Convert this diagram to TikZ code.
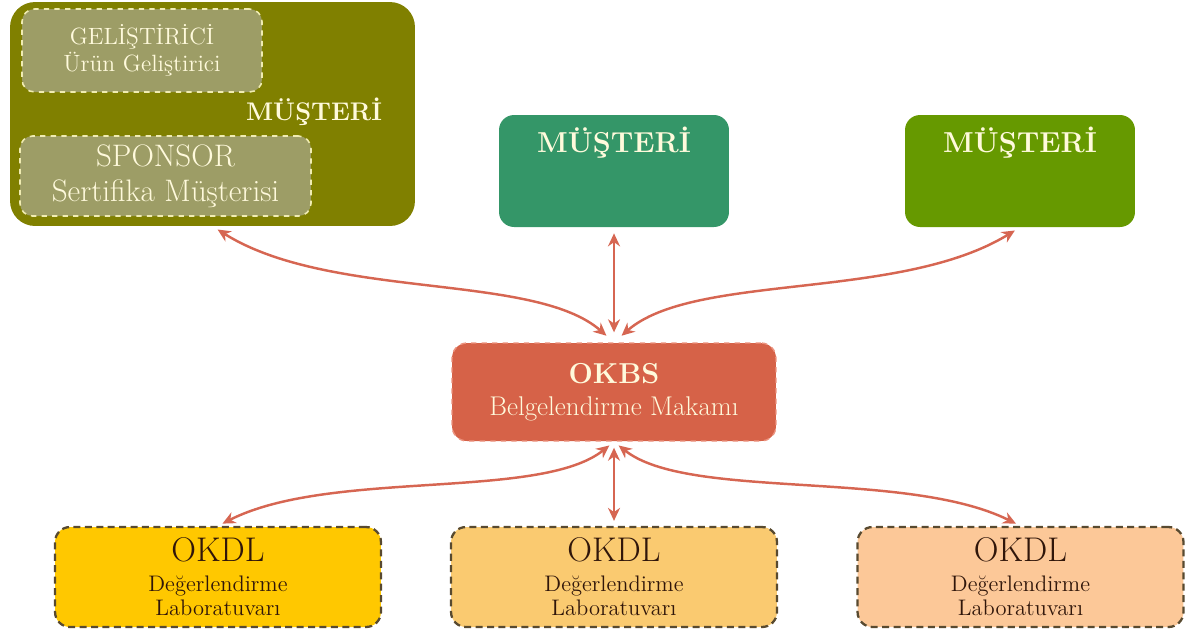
\documentclass[tikz,border=0pt]{standalone}
\usepackage{tikz}
\usetikzlibrary{arrows.meta, positioning, calc}

\definecolor{olivebox}{RGB}{128,128,0}
\definecolor{olivein}{RGB}{157,157,102}
\definecolor{oliveline}{RGB}{240,236,178}
\definecolor{cream}{RGB}{255,250,220}
\definecolor{seagreen}{RGB}{52,150,104}
\definecolor{leafgreen}{RGB}{102,153,0}
\definecolor{okbsred}{RGB}{214,98,72}
\definecolor{okbsline}{RGB}{236,146,126}
\definecolor{linkred}{RGB}{214,102,82}
\definecolor{labgold}{RGB}{255,200,0}
\definecolor{labamber}{RGB}{250,202,112}
\definecolor{labpeach}{RGB}{252,200,152}
\definecolor{labline}{RGB}{88,74,48}
\definecolor{labtext}{RGB}{48,22,10}

\begin{document}
\begin{tikzpicture}[
    x=0.02cm, y=-0.02cm,
    block/.style={rectangle, rounded corners=0.3cm, align=center, inner sep=0pt},
    inbox/.style={block, fill=olivein, draw=oliveline, dashed, line width=0.9pt, rounded corners=0.25cm, text=cream},
    labbox/.style={block, draw=labline, dash pattern=on 4pt off 2.5pt, line width=1.3pt, text=labtext, minimum width=6.52cm, minimum height=2cm, font=\fontsize{12.8}{13.7}\selectfont},
    title/.style={font=\fontsize{16.4}{18}\selectfont\bfseries, text=cream},
    link/.style={{Stealth[length=0.26cm, width=0.24cm]}-{Stealth[length=0.26cm, width=0.24cm]}, draw=linkred, line width=1.4pt, shorten <=0.2cm, shorten >=0.12cm}
]
\useasboundingbox (0,0) rectangle (1185,637);

% Customers
\node[block, fill=olivebox, rounded corners=0.5cm, minimum width=8.1cm, minimum height=4.48cm] (cust1) at (212.5,114) {};
\node[inbox, minimum width=4.8cm, minimum height=1.66cm, font=\fontsize{13.4}{15.4}\selectfont] (dev) at (142,50.5)
    {GELİŞTİRİCİ\\ Ürün Geliştirici};
\node[inbox, minimum width=5.82cm, minimum height=1.6cm, font=\fontsize{17.7}{20}\selectfont] (spon) at (165.5,176)
    {SPONSOR\\ Sertifika Müşterisi};
\node[title, font=\fontsize{14.5}{17}\selectfont\bfseries] (cust1t) at (314,112) {MÜŞTERİ};

\node[block, fill=seagreen, minimum width=4.6cm, minimum height=2.24cm] (cust2) at (614,171) {};
\node[title] (cust2t) at (614,143) {MÜŞTERİ};

\node[block, fill=leafgreen, minimum width=4.6cm, minimum height=2.24cm] (cust3) at (1020,171) {};
\node[title] (cust3t) at (1020,143) {MÜŞTERİ};

% Certification body
\node[block, fill=okbsred, draw=okbsline, dashed, line width=0.8pt, text=cream, minimum width=6.48cm, minimum height=1.96cm, font=\fontsize{15.4}{18.2}\selectfont] (okbs) at (614,392)
    {{\fontsize{16.4}{18.2}\selectfont\bfseries OKBS}\\ Belgelendirme Makamı};

% Laboratories
\node[labbox, fill=labgold] (lab1) at (218,577)
    {{\fontsize{19.5}{20}\selectfont OKDL}\\[3.3pt] Değerlendirme\\ Laboratuvarı};
\node[labbox, fill=labamber] (lab2) at (614,577)
    {{\fontsize{19.5}{20}\selectfont OKDL}\\[3.3pt] Değerlendirme\\ Laboratuvarı};
\node[labbox, fill=labpeach] (lab3) at (1020.5,577)
    {{\fontsize{19.5}{20}\selectfont OKDL}\\[3.3pt] Değerlendirme\\ Laboratuvarı};

% Arrows
\draw[link] (okbs.north) .. controls +(-80,-70) and +(118,74) .. (cust1.south);
\draw[link] (okbs.north) -- (cust2.south);
\draw[link] (okbs.north) .. controls +(80,-70) and +(-121,74) .. (cust3.south);
\draw[link, shorten <=0.12cm, shorten >=0.1cm] (okbs.south) .. controls +(-74,59) and +(112,-57) .. (lab1.north);
\draw[link, shorten <=0.12cm, shorten >=0.1cm] (okbs.south) -- (lab2.north);
\draw[link, shorten <=0.12cm, shorten >=0.1cm] (okbs.south) .. controls +(74,59) and +(-115,-57) .. (lab3.north);

\end{tikzpicture}
\end{document}
